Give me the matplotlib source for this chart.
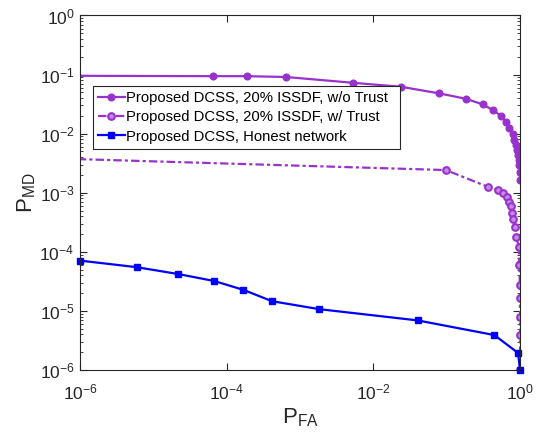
import matplotlib
matplotlib.use("Agg")
import matplotlib.pyplot as plt
from matplotlib.ticker import LogLocator, NullLocator

plt.rcParams['font.family'] = ['Liberation Sans', 'DejaVu Sans']
plt.rcParams['mathtext.fontset'] = 'custom'
plt.rcParams['mathtext.rm'] = 'Liberation Sans'
plt.rcParams['mathtext.it'] = 'Liberation Sans'
plt.rcParams['mathtext.default'] = 'regular'

# ---- data ----
pfa_notrust = [1e-7, 6.5e-5, 1.91e-4, 6.4e-4, 5.3e-3, 0.0238, 0.0787, 0.182, 0.31, 0.433,
               0.551, 0.638, 0.714, 0.793, 0.84, 0.87, 0.905, 0.93, 0.955, 0.97, 0.985, 1.0]
pmd_notrust = [0.096, 0.094, 0.094, 0.091, 0.0726, 0.0622, 0.0481, 0.039, 0.0313, 0.0248,
               0.0199, 0.0157, 0.0126, 0.0097, 0.0078, 0.0064, 0.0053, 0.00435, 0.00357, 0.00294,
               0.00226, 0.00164]

pfa_trust = [1e-7, 0.098, 0.363, 0.506, 0.593, 0.659, 0.714, 0.755, 0.785, 0.81, 0.847,
             0.89, 0.96, 0.98, 0.995, 0.998, 1.0, 1.0, 1.0]
pmd_trust = [0.00403, 0.00242, 1.26e-3, 1.11e-3, 9.8e-4, 8.4e-4, 7.0e-4, 5.96e-4, 4.6e-4, 3.55e-4,
             2.6e-4, 1.8e-4, 1.22e-4, 6.0e-5, 2.74e-5, 1.67e-5, 7.9e-6, 3.9e-6, 1e-6]

pfa_honest = [1e-6, 5.9e-6, 2.2e-5, 6.8e-5, 1.69e-4, 4.15e-4, 1.83e-3, 0.0403, 0.447, 0.94, 1.0]
pmd_honest = [7.1e-5, 5.5e-5, 4.2e-5, 3.2e-5, 2.27e-5, 1.46e-5, 1.07e-5, 6.9e-6, 3.9e-6, 1.94e-6, 1e-6]

labels = ['Proposed DCSS, 20% ISSDF, w/o Trust',
          'Proposed DCSS, 20% ISSDF, w/ Trust',
          'Proposed DCSS, Honest network']

purple = '#9932CC'
blue = '#0000FF'
axcol = '#262626'

fig = plt.figure(figsize=(5.37, 4.34), dpi=100)
ax = fig.add_axes([0.149, 0.1475, 0.8194, 0.8168])

ax.plot(pfa_notrust, pmd_notrust, '-', color=purple, lw=1.6, marker='o', ms=4.8,
        mfc=purple, mec=purple, label=labels[0])
ax.plot(pfa_trust, pmd_trust, color=purple, lw=1.6, dashes=(3.8, 1.4, 1.4, 1.4), marker='o', ms=4.8,
        mfc='#c48ae6', mec=purple, mew=1.5, label=labels[1])
ax.plot(pfa_honest, pmd_honest, '-', color=blue, lw=1.6, marker='s', ms=4.8,
        mfc=blue, mec=blue, label=labels[2], clip_on=False)

ax.set_xscale('log')
ax.set_yscale('log')
ax.set_xlim(1e-6, 1)
ax.set_ylim(1e-6, 1)

ax.set_xticks([1e-6, 1e-4, 1e-2, 1])
ax.xaxis.set_minor_locator(NullLocator())
ax.yaxis.set_major_locator(LogLocator(base=10, numticks=10))
ax.yaxis.set_minor_locator(LogLocator(base=10, subs=range(2, 10), numticks=20))

ax.tick_params(which='both', direction='in', top=True, right=True, colors=axcol,
               labelsize=12.5, labelcolor=axcol)
ax.tick_params(which='major', length=5, width=0.8)
ax.tick_params(which='minor', length=2.5, width=0.6)
ax.tick_params(axis='x', pad=9)
ax.tick_params(axis='y', pad=4)
for s in ax.spines.values():
    s.set_color(axcol)
    s.set_linewidth(0.8)

ax.set_xlabel(r'$\mathregular{P_{FA}}$', fontsize=16, color=axcol, labelpad=3)
ax.set_ylabel(r'$\mathregular{P_{MD}}$', fontsize=16, color=axcol, labelpad=1)

leg = ax.legend(loc='upper left', bbox_to_anchor=(0.0295, 0.801, 0.698, 0.0), mode='expand',
                borderaxespad=0,
                fontsize=10.7, frameon=True, fancybox=False, framealpha=1,
                edgecolor=axcol, handlelength=1.8, handletextpad=0.1,
                labelspacing=0.36, borderpad=0.33)
leg.get_frame().set_linewidth(0.8)

fig.savefig('out.png', dpi=100)
